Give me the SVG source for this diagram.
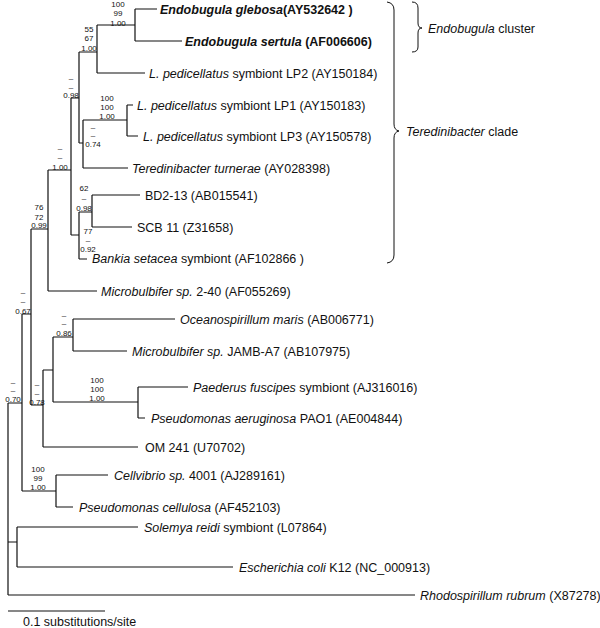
<svg xmlns="http://www.w3.org/2000/svg" width="600" height="628" viewBox="0 0 600 628">
<style>
text{font-family:"Liberation Sans",Arial,sans-serif;fill:#111}
.t{font-size:12.5px}
.b{font-weight:bold}
.i{font-style:italic}
.s{font-size:8px;text-anchor:middle}
.br{fill:none;stroke:#111;stroke-width:1.2}
.bc{fill:none;stroke:#111;stroke-width:1}
</style>
<rect width="600" height="628" fill="#fff"/>
<g id="branches" class="br">
<path d="M8,403V595M8,403H22M22,314V491M22,314H31M31,229V405M31,229H48M48,170V291M48,170H71M71,98V235M71,98H79M79,52V143M79,52H97M97,25V73M97,25H135M135,9V41M135,9H157M135,41H182M97,73H145M79,143H83M83,120V168M83,120H127M127,105V136M127,105H133M127,136H138M83,168H128M71,235H79M79,212V259M79,212H92M92,195V227M92,195H140M92,227H132M79,259H87M48,291H97M31,405H43M43,370V447M43,370H53M53,337V402M53,337H73M73,319V351M73,319H175M73,351H127M53,402H138M138,387V418M138,387H188M138,418H145M43,447H138M22,491H56M56,475V507M56,475H108M56,507H73M8,542H17M17,527V567M17,527H138M17,567H233M8,595H415"/>
</g>
<g id="taxa" class="t">
<g id="t1"><text x="160" y="13.5" class="b"><tspan class="i">Endobugula glebosa</tspan>(AY532642 )</text></g>
<g id="t2"><text x="185" y="45.5" class="b"><tspan class="i">Endobugula sertula</tspan> (AF006606)</text></g>
<g id="t3"><text x="149" y="77.5"><tspan class="i">L. pedicellatus</tspan> symbiont LP2 (AY150184)</text></g>
<g id="t4"><text x="137" y="109.5"><tspan class="i">L. pedicellatus</tspan> symbiont LP1 (AY150183)</text></g>
<g id="t5"><text x="143" y="140.5"><tspan class="i">L. pedicellatus</tspan> symbiont LP3 (AY150578)</text></g>
<g id="t6"><text x="132" y="172.5"><tspan class="i">Teredinibacter turnerae</tspan> (AY028398)</text></g>
<g id="t7"><text x="145" y="199.5">BD2-13 (AB015541)</text></g>
<g id="t8"><text x="137" y="231.5">SCB 11 (Z31658)</text></g>
<g id="t9"><text x="92" y="262.5"><tspan class="i">Bankia setacea</tspan> symbiont (AF102866 )</text></g>
<g id="t10"><text x="101" y="295.5"><tspan class="i">Microbulbifer sp.</tspan> 2-40 (AF055269)</text></g>
<g id="t11"><text x="180" y="323.5"><tspan class="i">Oceanospirillum maris</tspan> (AB006771)</text></g>
<g id="t12"><text x="132" y="355.5"><tspan class="i">Microbulbifer sp.</tspan> JAMB-A7 (AB107975)</text></g>
<g id="t13"><text x="193" y="391.5"><tspan class="i">Paederus fuscipes</tspan> symbiont (AJ316016)</text></g>
<g id="t14"><text x="151" y="422.5"><tspan class="i">Pseudomonas aeruginosa</tspan> PAO1 (AE004844)</text></g>
<g id="t15"><text x="145" y="451.5">OM 241 (U70702)</text></g>
<g id="t16"><text x="114" y="479.5"><tspan class="i">Cellvibrio sp.</tspan> 4001 (AJ289161)</text></g>
<g id="t17"><text x="79" y="511.5"><tspan class="i">Pseudomonas cellulosa</tspan> (AF452103)</text></g>
<g id="t18"><text x="144" y="531.5"><tspan class="i">Solemya reidi</tspan> symbiont (L07864)</text></g>
<g id="t19"><text x="239" y="571.5"><tspan class="i">Escherichia coli</tspan> K12 (NC_000913)</text></g>
<g id="t20"><text x="420" y="599.5"><tspan class="i">Rhodospirillum rubrum</tspan> (X87278)</text></g>
</g>
<g id="support" class="s">
<g id="n1"><text x="118" y="7">100</text><text x="118" y="16">99</text><text x="118" y="25.5">1.00</text></g>
<g id="n2"><text x="89" y="32">55</text><text x="89" y="41">67</text><text x="89" y="51">1.00</text></g>
<g id="n3"><text x="71" y="81">–</text><text x="71" y="90">–</text><text x="71" y="98">0.98</text></g>
<g id="n4"><text x="107" y="101">100</text><text x="107" y="110">100</text><text x="107" y="119">1.00</text></g>
<g id="n5"><text x="93" y="130">–</text><text x="93" y="138">–</text><text x="93" y="147">0.74</text></g>
<g id="n6"><text x="60" y="151">–</text><text x="60" y="160">–</text><text x="60" y="169.5">1.00</text></g>
<g id="n7"><text x="84" y="191">62</text><text x="84" y="201">–</text><text x="84" y="211">0.98</text></g>
<g id="n8"><text x="88" y="234">77</text><text x="88" y="243">–</text><text x="88" y="252">0.92</text></g>
<g id="n9"><text x="39" y="210">76</text><text x="39" y="219.5">72</text><text x="39" y="228">0.99</text></g>
<g id="n10"><text x="23" y="295">–</text><text x="23" y="304">–</text><text x="23" y="313.5">0.67</text></g>
<g id="n11"><text x="64" y="318">–</text><text x="64" y="326">–</text><text x="64" y="336">0.86</text></g>
<g id="n12"><text x="97" y="383">100</text><text x="97" y="392">100</text><text x="97" y="401">1.00</text></g>
<g id="n13"><text x="37" y="387">–</text><text x="37" y="396">–</text><text x="37" y="404.5">0.78</text></g>
<g id="n14"><text x="13" y="385">–</text><text x="13" y="393">–</text><text x="13" y="402">0.70</text></g>
<g id="n15"><text x="38" y="472">100</text><text x="38" y="481">99</text><text x="38" y="490">1.00</text></g>
</g>
<g id="brackets" class="bc">
<path d="M412,2Q418,2 418,8V23Q418,28 422,28Q418,28 418,33V47Q418,52 412,52"/>
<path d="M387,2Q394,3 394,10V124Q394,130 399,131Q394,132 394,138V255Q394,262 387,263"/>
</g>
<g id="clades" class="t">
<text x="428" y="32.5"><tspan class="i">Endobugula</tspan> cluster</text>
<text x="406" y="135.5"><tspan class="i">Teredinibacter</tspan> clade</text>
</g>
<g id="scale">
<path d="M8,611H105" class="br"/>
<text x="23" y="625.5" class="t">0.1 substitutions/site</text>
</g>
</svg>
